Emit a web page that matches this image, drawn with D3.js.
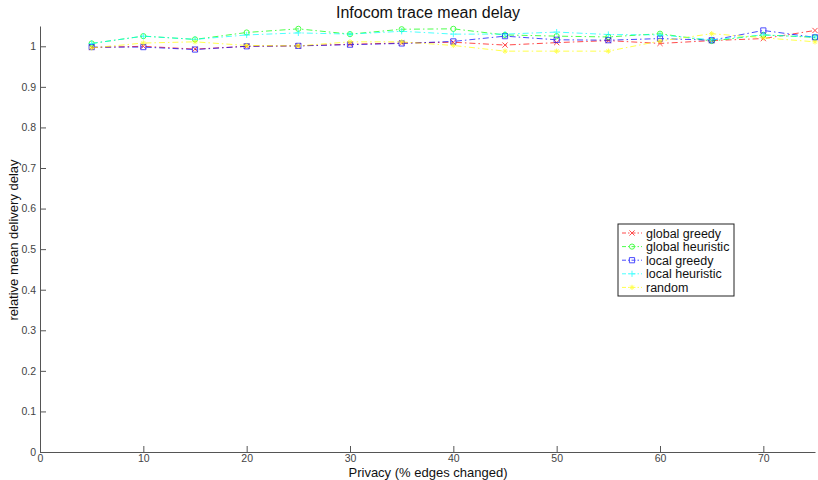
<!DOCTYPE html>
<html>
<head>
<meta charset="utf-8">
<script src="https://cdn.jsdelivr.net/npm/d3@7"></script>
<style>
  body { margin: 0; background: #fff; }
  svg { display: block; font-family: "Liberation Sans", Arial, Helvetica, sans-serif; }
</style>
</head>
<body>
<svg id="chart" width="818" height="480"></svg>
<script>
// Privacy levels (% edges changed)
const privacy = [5, 10, 15, 20, 25, 30, 35, 40, 45, 50, 55, 60, 65, 70, 75];

// Relative mean delivery delay per strategy
const globalGreedy    = [0.997, 1.000, 0.993, 1.000, 1.001, 1.005, 1.008, 1.010, 1.003, 1.009, 1.014, 1.007, 1.014, 1.019, 1.039];
const globalHeuristic = [1.007, 1.025, 1.017, 1.034, 1.043, 1.030, 1.042, 1.043, 1.028, 1.025, 1.023, 1.031, 1.013, 1.028, 1.022];
const localGreedy     = [0.998, 0.998, 0.992, 1.000, 1.001, 1.004, 1.007, 1.012, 1.025, 1.016, 1.015, 1.019, 1.015, 1.039, 1.022];
const localHeuristic  = [1.007, 1.025, 1.017, 1.028, 1.033, 1.030, 1.037, 1.030, 1.030, 1.035, 1.029, 1.028, 1.016, 1.028, 1.023];
const randomChoice    = [0.996, 1.008, 1.011, 1.002, 1.001, 1.011, 1.011, 1.002, 0.988, 0.988, 0.988, 1.013, 1.031, 1.021, 1.011];

const seriesNames = ["global greedy", "global heuristic", "local greedy", "local heuristic", "random"];
const seriesValues = [globalGreedy, globalHeuristic, localGreedy, localHeuristic, randomChoice];
const seriesColors = ["#ff0000", "#00ff00", "#0000ff", "#00ffff", "#ffff00"];
const seriesMarkers = ["x", "o", "s", "+", "*"];

const xTicks = [0, 10, 20, 30, 40, 50, 60, 70];
const yTicks = [0, 0.1, 0.2, 0.3, 0.4, 0.5, 0.6, 0.7, 0.8, 0.9, 1];

const svg = d3.select("#chart");
const margin = { left: 40, right: 3, top: 26, bottom: 28 };
const W = 818, H = 480;

const x = d3.scaleLinear().domain([0, 75]).range([margin.left, W - margin.right]);
const y = d3.scaleLinear().domain([0, 1.05]).range([H - margin.bottom, margin.top]);

const axisColor = "#555";

// Axes (ticks point inward)
const xAxis = svg.append("g")
  .attr("transform", `translate(0,${H - margin.bottom})`)
  .call(d3.axisBottom(x).tickValues(xTicks).tickSizeInner(-6).tickSizeOuter(0).tickPadding(2).tickFormat(d3.format("d")));
const yAxis = svg.append("g")
  .attr("transform", `translate(${margin.left},0)`)
  .call(d3.axisLeft(y).tickValues(yTicks).tickSizeInner(-6).tickSizeOuter(0).tickPadding(4).tickFormat(d => d3.format("~g")(d)));

[xAxis, yAxis].forEach(g => {
  g.select(".domain").attr("stroke", axisColor).attr("stroke-width", 1);
  g.selectAll(".tick line").attr("stroke", axisColor);
  g.selectAll(".tick text").attr("fill", "#444").style("font-size", "10.5px")
    .style("font-family", "Liberation Sans, Arial, sans-serif");
});
xAxis.selectAll(".tick text").attr("dy", "0.75em");

// Marker path builder
function markerPath(type, cx, cy) {
  const r = 2.6;
  const p = d3.path();
  if (type === "x") {
    p.moveTo(cx - r, cy - r); p.lineTo(cx + r, cy + r);
    p.moveTo(cx - r, cy + r); p.lineTo(cx + r, cy - r);
  } else if (type === "o") {
    p.moveTo(cx + r, cy); p.arc(cx, cy, r, 0, 2 * Math.PI);
  } else if (type === "s") {
    p.rect(cx - r, cy - r, 2 * r, 2 * r);
  } else if (type === "+") {
    p.moveTo(cx - r - 0.5, cy); p.lineTo(cx + r + 0.5, cy);
    p.moveTo(cx, cy - r - 0.5); p.lineTo(cx, cy + r + 0.5);
  } else if (type === "*") {
    p.moveTo(cx - r, cy); p.lineTo(cx + r, cy);
    p.moveTo(cx, cy - r); p.lineTo(cx, cy + r);
    p.moveTo(cx - r * 0.7, cy - r * 0.7); p.lineTo(cx + r * 0.7, cy + r * 0.7);
    p.moveTo(cx - r * 0.7, cy + r * 0.7); p.lineTo(cx + r * 0.7, cy - r * 0.7);
  }
  return p.toString();
}

const line = d3.line().x(d => x(d[0])).y(d => y(d[1]));

seriesValues.forEach((vals, i) => {
  const pts = privacy.map((p, k) => [p, vals[k]]);
  const g = svg.append("g").attr("opacity", 0.7);
  g.append("path")
    .attr("d", line(pts))
    .attr("fill", "none")
    .attr("stroke", seriesColors[i])
    .attr("stroke-width", 1)
    .attr("stroke-dasharray", "6,3,1.5,3");
  g.selectAll("path.mk").data(pts).enter().append("path")
    .attr("class", "mk")
    .attr("d", d => markerPath(seriesMarkers[i], x(d[0]), y(d[1])))
    .attr("fill", "none")
    .attr("stroke", seriesColors[i])
    .attr("stroke-width", 1);
});

// Title and axis labels
svg.append("text").attr("x", 428).attr("y", 18).attr("text-anchor", "middle")
  .style("font-size", "16px").attr("fill", "#111").text("Infocom trace mean delay");
svg.append("text").attr("x", 428).attr("y", 477).attr("text-anchor", "middle")
  .style("font-size", "13px").attr("fill", "#111").text("Privacy (% edges changed)");
svg.append("text").attr("transform", "translate(18,240) rotate(-90)").attr("text-anchor", "middle")
  .style("font-size", "13px").attr("fill", "#111").text("relative mean delivery delay");

// Legend
const lg = svg.append("g").attr("transform", "translate(618,224)");
lg.append("rect").attr("x", 0).attr("y", 0).attr("width", 116).attr("height", 72)
  .attr("fill", "#fff").attr("stroke", "#222").attr("stroke-width", 1);
seriesNames.forEach((name, i) => {
  const ry = 9 + i * 13.6;
  const row = lg.append("g");
  const sw = row.append("g").attr("opacity", 0.7);
  sw.append("line").attr("x1", 4).attr("x2", 24).attr("y1", ry).attr("y2", ry)
    .attr("stroke", seriesColors[i]).attr("stroke-width", 1).attr("stroke-dasharray", "4,2,1.5,2");
  sw.append("path").attr("d", markerPath(seriesMarkers[i], 14, ry))
    .attr("fill", "none").attr("stroke", seriesColors[i]).attr("stroke-width", 1);
  row.append("text").attr("x", 28).attr("y", ry + 4.5)
    .style("font-size", "12.5px").attr("fill", "#111").text(name);
});
</script>
</body>
</html>
